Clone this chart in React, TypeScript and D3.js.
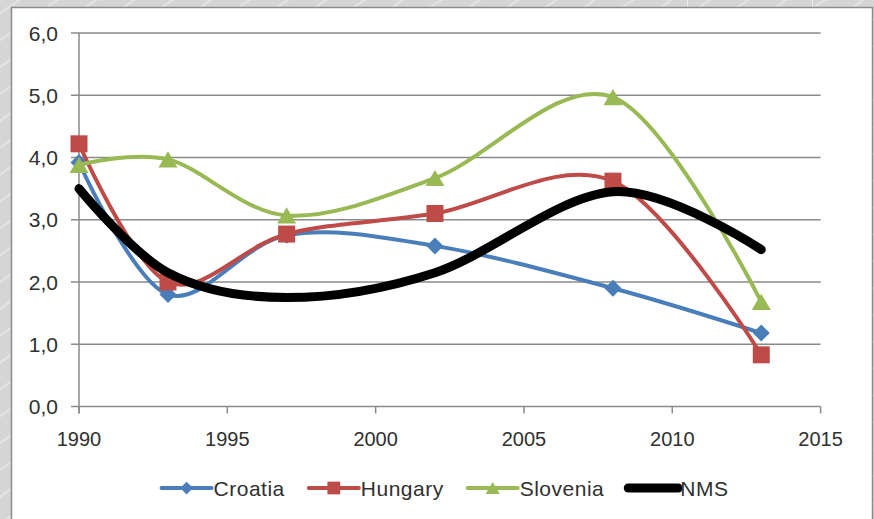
import React, { useEffect, useRef } from "react";
import * as d3 from "d3";

// Survey years and series values
const years = [1990, 1993, 1997, 2002, 2008, 2013];
const croatia = [3.92, 1.8, 2.75, 2.58, 1.9, 1.18];
const hungary = [4.22, 2.0, 2.77, 3.1, 3.62, 0.83];
const slovenia = [3.88, 3.97, 3.07, 3.67, 4.97, 1.68];
const nms = [3.5, 2.15, 1.75, 2.15, 3.45, 2.52];

const seriesNames = ["Croatia", "Hungary", "Slovenia", "NMS"];
const xTicks = [1990, 1995, 2000, 2005, 2010, 2015];
const yTicks = [0, 1, 2, 3, 4, 5, 6];

const W = 874;
const H = 519;

type Marker = "diamond" | "square" | "triangle" | "none";

function markerPath(kind: Marker, s: number): string {
  const p = d3.path();
  if (kind === "diamond") {
    p.moveTo(0, -s);
    p.lineTo(s, 0);
    p.lineTo(0, s);
    p.lineTo(-s, 0);
    p.closePath();
  } else if (kind === "square") {
    p.rect(-s, -s, 2 * s, 2 * s);
  } else if (kind === "triangle") {
    const h = s * 0.85;
    p.moveTo(0, -h);
    p.lineTo(s, h);
    p.lineTo(-s, h);
    p.closePath();
  }
  return p.toString();
}

export default function App() {
  const ref = useRef<SVGSVGElement | null>(null);

  useEffect(() => {
    const svg = d3.select(ref.current);
    svg.selectAll("*").remove();

    const font = "'Liberation Sans', Arial, sans-serif";
    const textColor = "#303030";
    const gridColor = "#8a8a8a";

    // page backdrop with faint diagonal streaks
    const defs = svg.append("defs");
    const pat = defs
      .append("pattern")
      .attr("id", "streaks")
      .attr("patternUnits", "userSpaceOnUse")
      .attr("width", 22)
      .attr("height", 22)
      .attr("patternTransform", "rotate(-35)");
    pat.append("rect").attr("width", 22).attr("height", 22).attr("fill", "#d5d5d5");
    pat.append("line").attr("x1", 0).attr("y1", 11).attr("x2", 22).attr("y2", 11)
      .attr("stroke", "#e4e4e4").attr("stroke-width", 2);

    svg.append("rect").attr("width", W).attr("height", H).attr("fill", "url(#streaks)");
    svg.append("line").attr("x1", 687.5).attr("x2", 687.5).attr("y1", 0).attr("y2", 7)
      .attr("stroke", "#eeeeee").attr("stroke-width", 1);
    svg.append("line").attr("x1", 812.5).attr("x2", 812.5).attr("y1", 0).attr("y2", 7)
      .attr("stroke", "#eeeeee").attr("stroke-width", 1);

    // chart panel
    svg.append("rect")
      .attr("x", 11.5).attr("y", 7.5)
      .attr("width", 861).attr("height", H)
      .attr("fill", "#ffffff")
      .attr("stroke", "#8c8c8c")
      .attr("stroke-width", 1.5);

    const x = d3.scaleLinear().domain([1990, 2015]).range([79, 820.6]);
    const y = d3.scaleLinear().domain([0, 6]).range([406.5, 33]);

    // horizontal gridlines
    svg.append("g")
      .selectAll("line")
      .data(yTicks.filter((t) => t > 0))
      .join("line")
      .attr("x1", x(1990) - 8)
      .attr("x2", x(2015))
      .attr("y1", (d) => y(d))
      .attr("y2", (d) => y(d))
      .attr("stroke", gridColor)
      .attr("stroke-width", 1.3);

    // axes
    svg.append("line")
      .attr("x1", x(1990)).attr("x2", x(1990))
      .attr("y1", y(6)).attr("y2", y(0) + 7)
      .attr("stroke", gridColor).attr("stroke-width", 1.5);
    svg.append("line")
      .attr("x1", x(1990) - 8).attr("x2", x(2015))
      .attr("y1", y(0)).attr("y2", y(0))
      .attr("stroke", gridColor).attr("stroke-width", 1.5);
    svg.append("g")
      .selectAll("line")
      .data(xTicks)
      .join("line")
      .attr("x1", (d) => x(d))
      .attr("x2", (d) => x(d))
      .attr("y1", y(0))
      .attr("y2", y(0) + 7)
      .attr("stroke", gridColor)
      .attr("stroke-width", 1.5);

    const fmt = (v: number) => d3.format(".1f")(v).replace(".", ",");
    svg.append("g")
      .selectAll("text")
      .data(yTicks)
      .join("text")
      .attr("x", 58)
      .attr("y", (d) => y(d))
      .attr("dy", "0.36em")
      .attr("text-anchor", "end")
      .attr("font-family", font)
      .attr("font-size", 21)
      .attr("fill", textColor)
      .text((d) => fmt(d));

    svg.append("g")
      .selectAll("text")
      .data(xTicks)
      .join("text")
      .attr("x", (d) => x(d))
      .attr("y", 445.5)
      .attr("text-anchor", "middle")
      .attr("font-family", font)
      .attr("font-size", 20)
      .attr("fill", textColor)
      .text((d) => String(d));

    const series: { name: string; values: number[]; color: string; width: number; marker: Marker; size: number }[] = [
      { name: seriesNames[0], values: croatia, color: "#4a7ebb", width: 4, marker: "diamond", size: 8.5 },
      { name: seriesNames[1], values: hungary, color: "#be4b48", width: 4, marker: "square", size: 8.5 },
      { name: seriesNames[2], values: slovenia, color: "#98b954", width: 4, marker: "triangle", size: 9.5 },
      { name: seriesNames[3], values: nms, color: "#000000", width: 9, marker: "none", size: 0 },
    ];

    const line = d3
      .line<number>()
      .x((_, i) => x(years[i]))
      .y((d) => y(d))
      .curve(d3.curveCardinal.tension(0));

    series.forEach((s) => {
      const g = svg.append("g");
      g.append("path")
        .attr("d", line(s.values))
        .attr("fill", "none")
        .attr("stroke", s.color)
        .attr("stroke-width", s.width)
        .attr("stroke-linecap", "round")
        .attr("stroke-linejoin", "round");
      if (s.marker !== "none") {
        g.selectAll("path.m")
          .data(s.values)
          .join("path")
          .attr("class", "m")
          .attr("transform", (d, i) => `translate(${x(years[i])},${y(d)})`)
          .attr("d", markerPath(s.marker, s.size))
          .attr("fill", s.color);
      }
    });

    // legend, laid out from measured label widths and centred under the plot
    const legend = svg.append("g");
    const lineLen = 50;
    const gap = 2;
    const spacing = 24;
    const items = series.map((s) => {
      const g = legend.append("g");
      g.append("line")
        .attr("x1", 0).attr("x2", lineLen)
        .attr("y1", 0).attr("y2", 0)
        .attr("stroke", s.color)
        .attr("stroke-width", s.width)
        .attr("stroke-linecap", "round");
      if (s.marker !== "none") {
        g.append("path")
          .attr("transform", `translate(${lineLen / 2},0)`)
          .attr("d", markerPath(s.marker, s.size * 0.75))
          .attr("fill", s.color);
      }
      const t = g.append("text")
        .attr("x", lineLen + gap)
        .attr("dy", "0.36em")
        .attr("font-family", font)
        .attr("font-size", 21)
        .attr("letter-spacing", 0.5)
        .attr("fill", textColor)
        .text(s.name);
      const tw = (t.node() as SVGTextElement).getComputedTextLength();
      return { g, w: lineLen + gap + tw };
    });
    const total = d3.sum(items, (d) => d.w) + spacing * (items.length - 1);
    let cx = 445 - total / 2;
    items.forEach((it) => {
      it.g.attr("transform", `translate(${cx},488)`);
      cx += it.w + spacing;
    });
  }, []);

  return (
    <div style={{ position: "absolute", left: 0, top: 0, width: W, height: H }}>
      <svg ref={ref} width={W} height={H} style={{ display: "block" }} />
    </div>
  );
}
